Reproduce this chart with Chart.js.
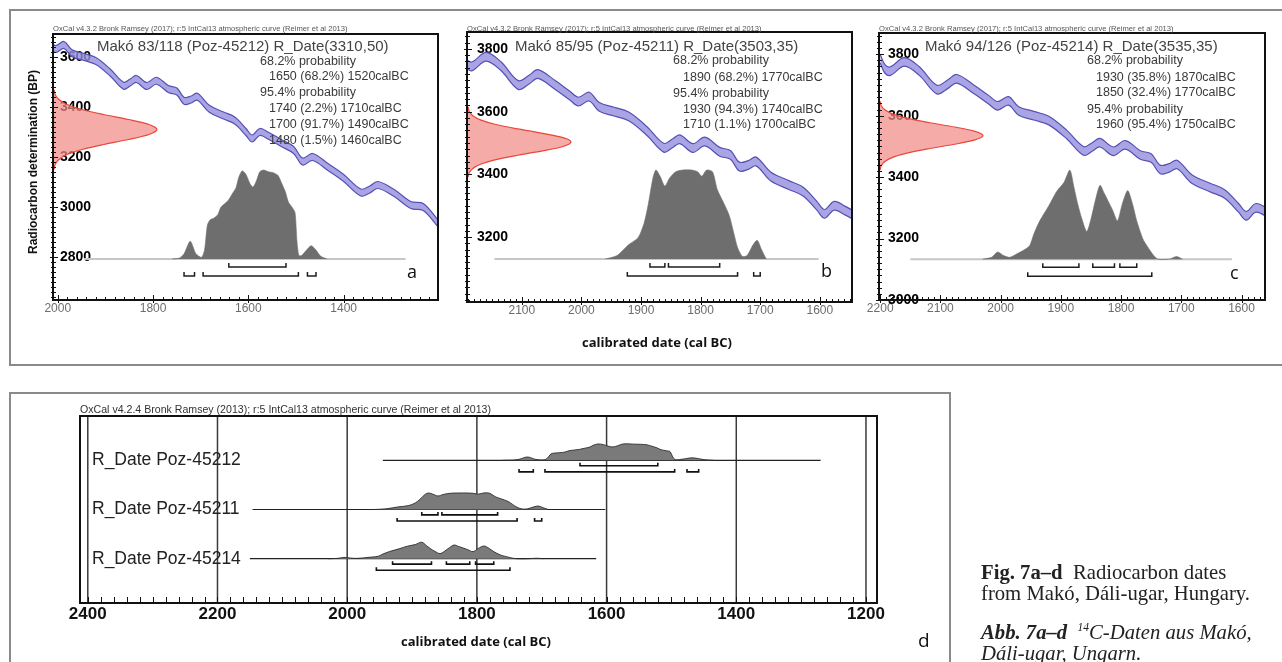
<!DOCTYPE html>
<html><head><meta charset="utf-8">
<script src="https://cdn.jsdelivr.net/npm/chart.js@4.4.1/dist/chart.umd.min.js"></script>
<style>
html,body{margin:0;padding:0;background:#fff;}
body{width:1282px;height:662px;position:relative;overflow:hidden;font-family:"Liberation Sans",Arial,sans-serif;}
canvas{position:absolute;left:0;top:0;}
.box{position:absolute;border:2px solid #8a8a8a;box-sizing:border-box;}
.t{position:absolute;white-space:nowrap;line-height:1;transform:translateY(-50%);}
.hd{font-size:7.6px;color:#555;}
.ti{font-size:15px;color:#444;}
.pr{font-size:12.5px;color:#3a3a3a;}
.lt{font-family:"Open Sans",sans-serif;font-size:18px;color:#111;}
.xt{font-family:"Open Sans",sans-serif;font-weight:700;font-size:13px;color:#111;transform:translate(-50%,-50%);}
.rl{font-size:17.5px;color:#222;}
.cap{position:absolute;white-space:nowrap;line-height:1;font-family:"Liberation Serif",serif;font-size:20.7px;color:#222;}
</style></head>
<body>
<div class="box" style="left:9px;top:9px;width:1290px;height:357px;"></div>
<div class="box" style="left:9px;top:392px;width:942px;height:290px;"></div>

<canvas id="ca" width="1282" height="662"></canvas>
<canvas id="cb" width="1282" height="662"></canvas>
<canvas id="cc" width="1282" height="662"></canvas>
<canvas id="cd" width="1282" height="662"></canvas>

<!-- panel a texts -->
<div class="t hd" style="left:53px;top:29px">OxCal v4.3.2 Bronk Ramsey (2017); r:5 IntCal13 atmospheric curve (Reimer et al 2013)</div>
<div class="t ti" style="left:97px;top:45px">Makó 83/118 (Poz-45212) R_Date(3310,50)</div>
<div class="t pr" style="left:260px;top:61px">68.2% probability</div>
<div class="t pr" style="left:269px;top:76px">1650 (68.2%) 1520calBC</div>
<div class="t pr" style="left:260px;top:92px">95.4% probability</div>
<div class="t pr" style="left:269px;top:108px">1740 (2.2%) 1710calBC</div>
<div class="t pr" style="left:269px;top:124px">1700 (91.7%) 1490calBC</div>
<div class="t pr" style="left:269px;top:140px">1480 (1.5%) 1460calBC</div>
<div class="t lt" style="left:407px;top:271px">a</div>
<!-- panel b texts -->
<div class="t hd" style="left:467px;top:29px">OxCal v4.3.2 Bronk Ramsey (2017); r:5 IntCal13 atmospheric curve (Reimer et al 2013)</div>
<div class="t ti" style="left:515px;top:45px">Makó 85/95 (Poz-45211) R_Date(3503,35)</div>
<div class="t pr" style="left:673px;top:60px">68.2% probability</div>
<div class="t pr" style="left:683px;top:77px">1890 (68.2%) 1770calBC</div>
<div class="t pr" style="left:673px;top:93px">95.4% probability</div>
<div class="t pr" style="left:683px;top:109px">1930 (94.3%) 1740calBC</div>
<div class="t pr" style="left:683px;top:124px">1710 (1.1%) 1700calBC</div>
<div class="t lt" style="left:821px;top:270px">b</div>
<!-- panel c texts -->
<div class="t hd" style="left:879px;top:29px">OxCal v4.3.2 Bronk Ramsey (2017); r:5 IntCal13 atmospheric curve (Reimer et al 2013)</div>
<div class="t ti" style="left:925px;top:45px">Makó 94/126 (Poz-45214) R_Date(3535,35)</div>
<div class="t pr" style="left:1087px;top:60px">68.2% probability</div>
<div class="t pr" style="left:1096px;top:77px">1930 (35.8%) 1870calBC</div>
<div class="t pr" style="left:1096px;top:92px">1850 (32.4%) 1770calBC</div>
<div class="t pr" style="left:1087px;top:109px">95.4% probability</div>
<div class="t pr" style="left:1096px;top:124px">1960 (95.4%) 1750calBC</div>
<div class="t lt" style="left:1230px;top:272px">c</div>
<!-- shared top titles -->
<div class="t" style="left:33px;top:162px;font-size:12px;font-weight:bold;color:#111;transform:translate(-50%,-50%) rotate(-90deg);">Radiocarbon determination (BP)</div>
<div class="t xt" style="left:657px;top:342px">calibrated date (cal BC)</div>
<!-- panel d texts -->
<div class="t" style="left:80px;top:409px;font-size:10.6px;color:#333;">OxCal v4.2.4 Bronk Ramsey (2013); r:5 IntCal13 atmospheric curve (Reimer et al 2013)</div>
<div class="t rl" style="left:92px;top:460px">R_Date Poz-45212</div>
<div class="t rl" style="left:92px;top:509px">R_Date Poz-45211</div>
<div class="t rl" style="left:92px;top:559px">R_Date Poz-45214</div>
<div class="t xt" style="left:476px;top:641px">calibrated date (cal BC)</div>
<div class="t lt" style="left:918px;top:640px;font-size:19px">d</div>
<!-- caption -->
<div class="cap" style="left:981px;top:562px"><b>Fig. 7a–d</b>&nbsp; Radiocarbon dates</div>
<div class="cap" style="left:981px;top:583px">from Makó, Dáli-ugar, Hungary.</div>
<div class="cap" style="left:981px;top:622px"><b><i>Abb. 7a–d</i></b>&nbsp; <i><sup style="font-size:11.5px;">14</sup>C-Daten aus Makó,</i></div>
<div class="cap" style="left:981px;top:643px"><i>Dáli-ugar, Ungarn.</i></div>

<script>
// ================= DATA =================
// IntCal13 calibration curve (cal BC -> BP)
const curveYears = [2200,2192,2183,2160,2135,2106,2088,2073,2044,2020,2005,1987,1970,1945,1920,1890,1862,1848,1835,1813,1793,1768,1750,1735,1720,1707,1682,1652,1628,1605,1592,1576,1557,1530,1505,1486,1465,1433,1400,1364,1345,1328,1294,1259,1233,1200];
const curveBP    = [3785,3752,3745,3775,3745,3685,3702,3720,3685,3652,3632,3648,3615,3600,3584,3538,3485,3498,3512,3484,3505,3472,3462,3425,3430,3441,3393,3366,3345,3300,3274,3300,3284,3255,3228,3182,3200,3160,3116,3058,3070,3088,3056,3008,3000,2930];
const curveSigma = 14;

// Radiocarbon determinations
const sampleLabels = ['R_Date Poz-45212','R_Date Poz-45211','R_Date Poz-45214'];
const rdateBP  = [3310, 3503, 3535];
const rdateErr = [50, 35, 35];
// bell profile of the measured date (in sigma units / relative height)
const bellZ = [-3.2,-2.8,-2.4,-2,-1.6,-1.2,-0.8,-0.4,0,0.4,0.8,1.2,1.6,2,2.4,2.8,3.2];
const bellP = [0.006,0.020,0.056,0.135,0.278,0.487,0.726,0.923,1,0.923,0.726,0.487,0.278,0.135,0.056,0.020,0.006];

// Calibrated probability distributions (cal BC, % of maximum)
const distAYears = [1760,1745,1735,1722,1710,1698,1692,1686,1680,1672,1664,1658,1650,1642,1634,1626,1620,1613,1605,1596,1590,1583,1576,1568,1558,1548,1538,1530,1522,1516,1508,1502,1498,1494,1488,1478,1468,1458,1448,1435];
const distAProb  = [0,1,6,20,6,2,10,38,44,46,50,58,62,66,73,80,92,99,95,84,81,88,98,100,98,97,94,85,75,64,58,52,20,4,4,10,15,10,3,0];
const distBYears = [1960,1940,1921,1905,1895,1888,1880,1875,1868,1860,1852,1842,1830,1815,1805,1798,1790,1780,1772,1762,1752,1745,1738,1730,1722,1712,1705,1698,1690];
const distBProb  = [0,4,16,24,40,61,91,100,93,82,91,98,100,100,98,93,100,98,78,64,49,31,13,3,4,16,21,11,0];
const distCYears = [2030,2015,2005,1995,1985,1973,1962,1952,1945,1935,1920,1907,1895,1885,1878,1872,1865,1857,1850,1842,1835,1828,1822,1814,1806,1798,1789,1781,1774,1764,1756,1748,1739,1720,1708,1698];
const distCProb  = [0,2,8,4,2,6,10,15,28,43,60,76,86,100,80,62,45,31,45,68,83,74,66,55,43,62,77,62,43,23,14,6,0,0,3,0];

// Calculated range spans and 68.2% / 95.4% ranges (cal BC)
const spanA = [1945,1270], spanB = [2146,1602], spanC = [2150,1616];
const rangesA68 = [[1641,1521]];
const rangesA95 = [[1735,1713],[1695,1495],[1476,1458]];
const rangesB68 = [[1885,1860],[1854,1768]];
const rangesB95 = [[1923,1738],[1711,1700]];
const rangesC68 = [[1930,1870],[1847,1811],[1802,1774]];
const rangesC95 = [[1955,1749]];

// Tick labels
const xLabelsA = [2000,1800,1600,1400];
const yLabelsA = [2800,3000,3200,3400,3600];
const xLabelsB = [2100,2000,1900,1800,1700,1600];
const yLabelsB = [3200,3400,3600,3800];
const xLabelsC = [2200,2100,2000,1900,1800,1700,1600];
const yLabelsC = [3000,3200,3400,3600,3800];
const xLabelsD = [2400,2200,2000,1800,1600,1400,1200];

// ================= RENDERING =================
const W = 1282, H = 662, XH = 20;

function lineDS(data, o) {
  return Object.assign({type:'line', data, pointRadius:0, pointHoverRadius:0, borderWidth:1, fill:false, tension:0, spanGaps:false}, o);
}
function bracketPoints(ranges, y, tick) {
  const pts = [];
  ranges.forEach(([s, e]) => {
    pts.push({x:s, y:y + tick}, {x:s, y:y}, {x:e, y:y}, {x:e, y:y + tick}, {x:e, y:null});
  });
  return pts;
}
function hasLabel(list, v) { return list.includes(Math.round(v)); }

function framePlugin(cfg) {
  return {
    id: 'frame',
    beforeDatasetsDraw(chart) {
      if (!cfg.grid) return;
      const {ctx, chartArea: a} = chart, xs = chart.scales.x;
      ctx.save(); ctx.strokeStyle = '#3a3a3a'; ctx.lineWidth = 1.5;
      cfg.xLabels.forEach(v => {
        const px = xs.getPixelForValue(v);
        ctx.beginPath(); ctx.moveTo(px, a.top); ctx.lineTo(px, a.bottom); ctx.stroke();
      });
      ctx.restore();
    },
    afterDatasetsDraw(chart) {
      const {ctx, chartArea: a} = chart, xs = chart.scales.x;
      ctx.save(); ctx.strokeStyle = '#111'; ctx.lineWidth = 1;
      xs.ticks.forEach(t => {
        const px = Math.round(xs.getPixelForValue(t.value)) + 0.5;
        const major = hasLabel(cfg.xLabels, t.value);
        ctx.beginPath();
        ctx.moveTo(px, a.bottom + (major ? cfg.out : 0));
        ctx.lineTo(px, a.bottom - (major ? cfg.majorIn : cfg.minorIn));
        ctx.stroke();
      });
      if (cfg.yLabels) {
        const ys = chart.scales.y;
        ys.ticks.forEach(t => {
          const py = Math.round(ys.getPixelForValue(t.value)) + 0.5;
          const major = hasLabel(cfg.yLabels, t.value);
          ctx.beginPath();
          ctx.moveTo(a.left - (major ? cfg.out : 2), py);
          ctx.lineTo(a.left + (major ? cfg.majorIn : cfg.minorIn), py);
          ctx.stroke();
        });
      }
      ctx.lineWidth = 2; ctx.strokeStyle = '#111';
      ctx.strokeRect(a.left, a.top, a.right - a.left, a.bottom - a.top);
      ctx.restore();
    }
  };
}

const topPanels = [
  {id:'ca', area:[53,34,438,300], xMin:1202, xMax:2010, yMin:2628, yMax:3692, xStep:20, base:2792,
   bp:rdateBP[0], err:rdateErr[0], years:distAYears, prob:distAProb, span:spanA, r68:rangesA68, r95:rangesA95,
   xLabels:xLabelsA, yLabels:yLabelsA, yPad:7},
  {id:'cb', area:[467,32,852,302], xMin:1546, xMax:2192, yMin:2993, yMax:3854, xStep:10, base:3130,
   bp:rdateBP[1], err:rdateErr[1], years:distBYears, prob:distBProb, span:spanB, r68:rangesB68, r95:rangesB95,
   xLabels:xLabelsB, yLabels:yLabelsB, yPad:10},
  {id:'cc', area:[879,33,1265,300], xMin:1561, xMax:2202, yMin:3000, yMax:3869, xStep:10, base:3133,
   bp:rdateBP[2], err:rdateErr[2], years:distCYears, prob:distCProb, span:spanC, r68:rangesC68, r95:rangesC95,
   xLabels:xLabelsC, yLabels:yLabelsC, yPad:9}
];

function topChart(P) {
  const [L, T, R, B] = P.area;
  const bpPx = (P.yMax - P.yMin) / (B - T);
  const yrPx = (P.xMax - P.xMin) / (R - L);
  const upper = curveYears.map((x, k) => ({x, y: curveBP[k] + curveSigma}));
  const lower = curveYears.map((x, k) => ({x, y: curveBP[k] - curveSigma}));
  const redYears = 104 * yrPx;
  const red = [{x: P.xMax + 60, y: P.bp + bellZ[0] * P.err}]
    .concat(bellZ.map((z, k) => ({x: P.xMax - bellP[k] * redYears, y: P.bp + z * P.err})))
    .concat([{x: P.xMax + 60, y: P.bp + bellZ[bellZ.length - 1] * P.err}]);
  const dist = P.years.map((x, k) => ({x, y: P.base + P.prob[k] / 100 * 89 * bpPx}));

  new Chart(document.getElementById(P.id), {
    type: 'line',
    data: {datasets: [
      lineDS(upper, {borderColor:'#5650b4', borderWidth:1.2, tension:0.35, order:5}),
      lineDS(lower, {borderColor:'#5650b4', borderWidth:1.2, tension:0.35, fill:'-1', backgroundColor:'rgba(148,143,222,0.8)', order:5}),
      lineDS(red, {borderColor:'#e8473a', borderWidth:1.2, tension:0.3, fill:'shape', backgroundColor:'rgba(241,138,134,0.72)', order:8}),
      lineDS([{x:P.span[0], y:P.base}, {x:P.span[1], y:P.base}], {borderColor:'#c6c6c6', borderWidth:2, order:7}),
      lineDS(dist, {borderColor:'#6e6e6e', borderWidth:0.6, tension:0.25, fill:{value:P.base}, backgroundColor:'#6e6e6e', order:4}),
      lineDS(bracketPoints(P.r68, P.base - 8 * bpPx, 4 * bpPx), {borderColor:'#1e1e1e', borderWidth:1.5, order:1}),
      lineDS(bracketPoints(P.r95, P.base - 17 * bpPx, 4 * bpPx), {borderColor:'#1e1e1e', borderWidth:1.5, order:1})
    ]},
    options: {
      responsive:false, animation:false, devicePixelRatio:1, events:[],
      layout:{padding:{left:L, top:T, right:W - R, bottom:H - B - XH}},
      plugins:{legend:{display:false}, tooltip:{enabled:false}},
      scales:{
        x:{type:'linear', reverse:true, min:P.xMin, max:P.xMax,
           grid:{display:false, drawTicks:false}, border:{display:false},
           ticks:{stepSize:P.xStep, autoSkip:false, maxRotation:0, minRotation:0, includeBounds:false, padding:1,
                  color:'#6c6c6c', font:{family:'Liberation Sans', size:12},
                  callback:v => hasLabel(P.xLabels, v) ? String(Math.round(v)) : ''},
           afterFit:s => {s.height = XH; s.paddingLeft = 0; s.paddingRight = 0;}},
        y:{type:'linear', min:P.yMin, max:P.yMax,
           grid:{display:false, drawTicks:false}, border:{display:false},
           ticks:{stepSize:20, autoSkip:false, includeBounds:false, mirror:true, padding:P.yPad,
                  color:'#000', font:{family:'Liberation Sans', size:14, weight:'bold'},
                  callback:v => hasLabel(P.yLabels, v) ? String(Math.round(v)) : ''},
           afterFit:s => {s.width = 0; s.paddingTop = 0; s.paddingBottom = 0;}}
      }
    },
    plugins:[framePlugin({xLabels:P.xLabels, yLabels:P.yLabels, out:3, majorIn:5, minorIn:3})]
  });
}
topPanels.forEach(topChart);

// ---- panel d: multiplot ----
(function () {
  const D = {area:[80,416,877,603], xMin:1183, xMax:2412, yMin:0.1, yMax:3.9};
  const [L, T, R, B] = D.area;
  const rowY = [3, 2, 1];
  const rows = [
    {years:distAYears, prob:distAProb, span:spanA, r68:rangesA68, r95:rangesA95},
    {years:distBYears, prob:distBProb, span:spanB, r68:rangesB68, r95:rangesB95},
    {years:distCYears, prob:distCProb, span:spanC, r68:rangesC68, r95:rangesC95}
  ];
  const ds = [];
  rows.forEach((r, i) => {
    const y0 = rowY[i];
    ds.push(lineDS([{x:r.span[0], y:y0}, {x:r.span[1], y:y0}], {borderColor:'#222', borderWidth:1.2, order:3}));
    ds.push(lineDS(r.years.map((x, k) => ({x, y: y0 + r.prob[k] / 100 * 0.335})),
      {borderColor:'#2e2e2e', borderWidth:0.9, tension:0.35, fill:{value:y0}, backgroundColor:'#7a7a7a', order:2}));
    ds.push(lineDS(bracketPoints(r.r68, y0 - 0.11, 0.06), {borderColor:'#111', borderWidth:1.6, order:1}));
    ds.push(lineDS(bracketPoints(r.r95, y0 - 0.235, 0.06), {borderColor:'#111', borderWidth:1.6, order:1}));
  });
  new Chart(document.getElementById('cd'), {
    type:'line',
    data:{datasets:ds},
    options:{
      responsive:false, animation:false, devicePixelRatio:1, events:[],
      layout:{padding:{left:L, top:T, right:W - R, bottom:H - B - XH}},
      plugins:{legend:{display:false}, tooltip:{enabled:false}},
      scales:{
        x:{type:'linear', reverse:true, min:D.xMin, max:D.xMax,
           grid:{display:false, drawTicks:false}, border:{display:false},
           ticks:{stepSize:20, autoSkip:false, maxRotation:0, minRotation:0, includeBounds:false, padding:1,
                  color:'#111', font:{family:'Liberation Sans', size:17, weight:'bold'},
                  callback:v => hasLabel(xLabelsD, v) ? String(Math.round(v)) : ''},
           afterFit:s => {s.height = XH; s.paddingLeft = 0; s.paddingRight = 0;}},
        y:{type:'linear', display:false, min:D.yMin, max:D.yMax}
      }
    },
    plugins:[framePlugin({xLabels:xLabelsD, grid:true, out:0, majorIn:6, minorIn:6})]
  });
})();
</script>
</body></html>
